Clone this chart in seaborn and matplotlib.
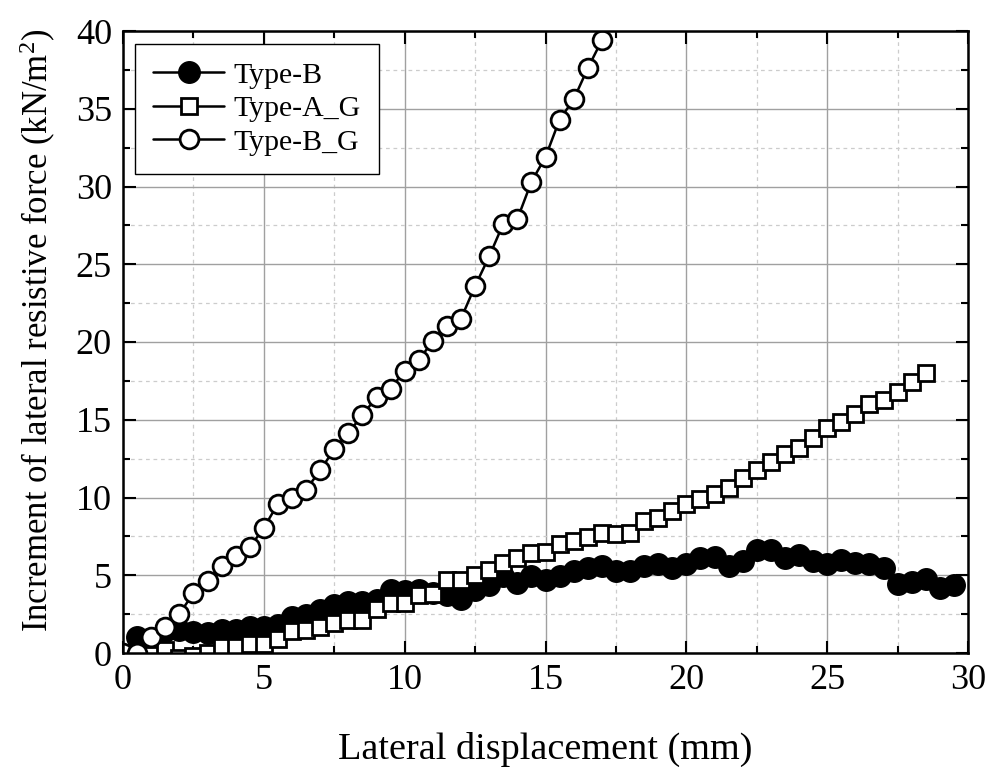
import numpy as np
import pandas as pd
import matplotlib
matplotlib.use("Agg")
import matplotlib.pyplot as plt
from matplotlib.ticker import MultipleLocator
import seaborn as sns

# ---------------- data ----------------
x_type_b = [0.5, 1.0, 1.5, 2.0, 2.5, 3.0, 3.5, 4.0, 4.5, 5.0, 5.5, 6.0, 6.5, 7.0, 7.5, 8.0,
            8.5, 9.0, 9.5, 10.0, 10.5, 11.0, 11.5, 12.0, 12.5, 13.0, 13.5, 14.0, 14.5, 15.0,
            15.5, 16.0, 16.5, 17.0, 17.5, 18.0, 18.5, 19.0, 19.5, 20.0, 20.5, 21.0, 21.5, 22.0,
            22.5, 23.0, 23.5, 24.0, 24.5, 25.0, 25.5, 26.0, 26.5, 27.0, 27.5, 28.0, 28.5, 29.0, 29.5]
y_type_b = [1.0, 0.9, 1.4, 1.5, 1.38, 1.27, 1.48, 1.48, 1.7, 1.7, 1.8, 2.34, 2.45, 2.77, 3.1, 3.25,
            3.3, 3.4, 4.06, 3.96, 4.06, 3.85, 3.74, 3.5, 4.06, 4.4, 4.93, 4.5, 4.93, 4.7,
            4.93, 5.25, 5.46, 5.6, 5.25, 5.25, 5.58, 5.7, 5.46, 5.7, 6.1, 6.2, 5.57, 5.9,
            6.6, 6.6, 6.1, 6.3, 5.9, 5.7, 6.0, 5.77, 5.7, 5.46, 4.45, 4.55, 4.75, 4.2, 4.35]

x_type_a_g = [0.0, 0.5, 1.0, 1.5, 2.0, 2.5, 3.0, 3.5, 4.0, 4.5, 5.0, 5.5, 6.0, 6.5, 7.0, 7.5,
              8.0, 8.5, 9.0, 9.5, 10.0, 10.5, 11.0, 11.5, 12.0, 12.5, 13.0, 13.5, 14.0, 14.5,
              15.0, 15.5, 16.0, 16.5, 17.0, 17.5, 18.0, 18.5, 19.0, 19.5, 20.0, 20.5, 21.0,
              21.5, 22.0, 22.5, 23.0, 23.5, 24.0, 24.5, 25.0, 25.5, 26.0, 26.5, 27.0, 27.5,
              28.0, 28.5]
y_type_a_g = [0.0, -0.1, -0.1, 0.2, -0.3, -0.2, 0.0, 0.4, 0.4, 0.6, 0.6, 0.9, 1.4, 1.5, 1.7, 1.9,
              2.15, 2.15, 2.8, 3.2, 3.2, 3.7, 3.8, 4.7, 4.7, 5.0, 5.35, 5.8, 6.1, 6.4,
              6.5, 7.0, 7.2, 7.45, 7.7, 7.65, 7.7, 8.5, 8.7, 9.1, 9.55, 9.9, 10.2,
              10.6, 11.27, 11.8, 12.3, 12.8, 13.2, 13.8, 14.5, 14.85, 15.35, 16.0, 16.3, 16.8,
              17.4, 18.0]

x_type_b_g = [0.0, 0.5, 1.0, 1.5, 2.0, 2.5, 3.0, 3.5, 4.0, 4.5, 5.0, 5.5, 6.0, 6.5, 7.0, 7.5,
              8.0, 8.5, 9.0, 9.5, 10.0, 10.5, 11.0, 11.5, 12.0, 12.5, 13.0, 13.5, 14.0, 14.5,
              15.0, 15.5, 16.0, 16.5, 17.0]
y_type_b_g = [0.0, 0.0, 1.0, 1.65, 2.5, 3.85, 4.6, 5.6, 6.25, 6.8, 8.05, 9.6, 10.0, 10.5, 11.75, 13.1,
              14.15, 15.3, 16.45, 17.0, 18.15, 18.85, 20.05, 21.05, 21.5, 23.6, 25.5, 27.6, 27.9, 30.3,
              31.9, 34.3, 35.6, 37.6, 39.4]

series_names = ["Type-B", "Type-A_G", "Type-B_G"]
x_ticks = [0, 5, 10, 15, 20, 25, 30]
y_ticks = [0, 5, 10, 15, 20, 25, 30, 35, 40]

# ---------------- style ----------------
sns.set_theme(style="white")
plt.rcParams["font.family"] = ["Liberation Serif", "DejaVu Serif"]
plt.rcParams["mathtext.fontset"] = "custom"
plt.rcParams["mathtext.rm"] = "Liberation Serif"
plt.rcParams["mathtext.it"] = "Liberation Serif:italic"
plt.rcParams["mathtext.default"] = "regular"
plt.rcParams["text.color"] = "black"
plt.rcParams["axes.labelcolor"] = "black"
plt.rcParams["xtick.color"] = "black"
plt.rcParams["ytick.color"] = "black"

fig = plt.figure(figsize=(9.88, 7.69), dpi=100)
ax = fig.add_axes([123 / 988, 1 - 653 / 769, (968 - 123) / 988, (653 - 31) / 769])

df_b = pd.DataFrame({"x": x_type_b, "y": y_type_b})
df_ag = pd.DataFrame({"x": x_type_a_g, "y": y_type_a_g})
df_bg = pd.DataFrame({"x": x_type_b_g, "y": y_type_b_g})

common = dict(color="black", linewidth=1.8, ax=ax, sort=False, estimator=None)
sns.lineplot(data=df_b, x="x", y="y", marker="o", markersize=15.5, markerfacecolor="black",
             markeredgecolor="black", markeredgewidth=1.0, label=series_names[0], **common)
sns.lineplot(data=df_ag, x="x", y="y", marker="s", markersize=11.5, markerfacecolor="white",
             markeredgecolor="black", markeredgewidth=2.0, label=series_names[1], **common)
sns.lineplot(data=df_bg, x="x", y="y", marker="o", markersize=13.5, markerfacecolor="white",
             markeredgecolor="black", markeredgewidth=2.0, label=series_names[2], **common)

ax.set_xlim(0, 30)
ax.set_ylim(0, 40)
ax.set_xticks(x_ticks)
ax.set_yticks(y_ticks)
ax.xaxis.set_minor_locator(MultipleLocator(2.5))
ax.yaxis.set_minor_locator(MultipleLocator(2.5))

ax.grid(which="major", color="#a0a0a0", linestyle="-", linewidth=1.0)
ax.grid(which="minor", color="#cccccc", linestyle=(0, (3, 3)), linewidth=0.9)
ax.set_axisbelow(True)

ax.tick_params(which="both", direction="in", top=True, right=True, bottom=True, left=True,
               labelsize=26, colors="black", pad=8)
ax.tick_params(which="major", length=9, width=1.5)
ax.tick_params(which="minor", length=5, width=1.5)

for s in ax.spines.values():
    s.set_linewidth(1.8)
    s.set_color("black")

ax.set_xlabel("Lateral displacement (mm)", fontsize=27.5, labelpad=25, color="black")
ax.set_ylabel("Increment of lateral resistive force (kN/m$^{2}$)", fontsize=25, labelpad=13,
              color="black")
ax.yaxis.label.set_y(0.518)

leg = ax.legend(loc="upper left", bbox_to_anchor=(0.014, 0.979), borderaxespad=0,
                fontsize=21.5, frameon=True, fancybox=False, edgecolor="black",
                handlelength=2.4, labelspacing=0.22, borderpad=0.6, handletextpad=0.3,
                labelcolor="black")
leg.get_frame().set_linewidth(1.0)
leg.get_frame().set_alpha(1)

fig.savefig("out.png", dpi=100)
